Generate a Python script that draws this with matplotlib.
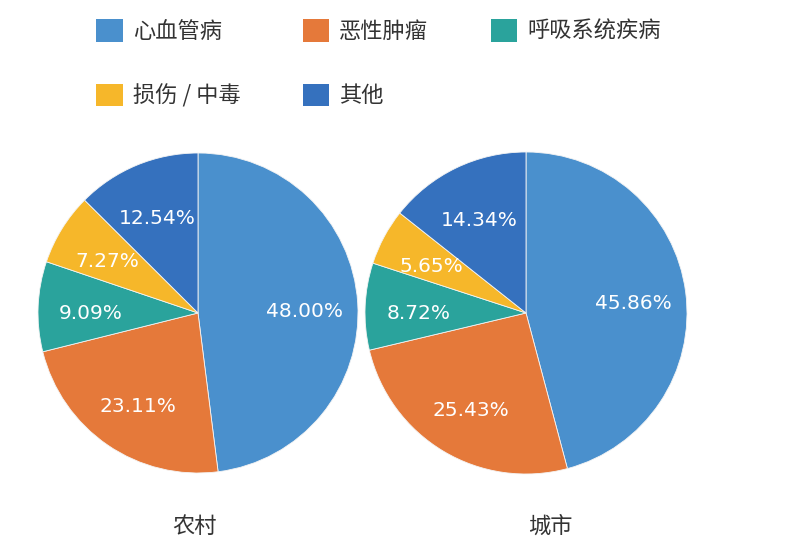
import matplotlib
matplotlib.use("Agg")
import matplotlib.pyplot as plt
from matplotlib.patches import Patch

plt.rcParams['font.family'] = ['Noto Sans CJK SC', 'DejaVu Sans']

# 数据
categories = ['心血管病', '恶性肿瘤', '呼吸系统疾病', '损伤 / 中毒', '其他']
rural = [48.00, 23.11, 9.09, 7.27, 12.54]
urban = [45.86, 25.43, 8.72, 5.65, 14.34]
titles = ['农村', '城市']
colors = ['#4A90CD', '#E5793A', '#2AA39C', '#F6B72A', '#3571BE']

W, H = 811, 550
fig = plt.figure(figsize=(W / 100, H / 100), dpi=100)


def draw_pie(cx, cy, r, values):
    ax = fig.add_axes([(cx - r) / W, (H - cy - r) / H, 2 * r / W, 2 * r / H])
    it = iter(values)
    _, _, autotexts = ax.pie(
        values, colors=colors, startangle=90, counterclock=False,
        autopct=lambda p: f"{next(it):.2f}%", pctdistance=0.67,
        wedgeprops=dict(edgecolor='#f4f4f4', linewidth=0.6),
        textprops=dict(color='white', fontsize=14.5, family='DejaVu Sans'))
    # 标签略微下移
    for t in autotexts:
        x, y = t.get_position()
        t.set_position((x, y - 0.03))
    ax.set_xlim(-1, 1)
    ax.set_ylim(-1, 1)
    ax.set_aspect('equal')
    return ax


draw_pie(198, 313, 160, rural)
draw_pie(526, 313, 161, urban)

# 图下方标题
fig.text(195 / W, 1 - 526 / H, titles[0], ha='center', va='center',
         fontsize=16, color='#333333')
fig.text(550 / W, 1 - 526 / H, titles[1], ha='center', va='center',
         fontsize=16, color='#333333')

# 图例（按列填充，调整顺序使第一行为前三项）
order = [0, 3, 1, 4, 2]
handles = [Patch(facecolor=colors[i], edgecolor='none') for i in order]
labels = [categories[i] for i in order]
fig.legend(handles, labels, ncol=3, loc='upper left',
           bbox_to_anchor=(96 / W, 1 - 19 / H), frameon=False,
           fontsize=16, handlelength=1.2, handleheight=1.2,
           handletextpad=0.45, columnspacing=2.8, labelspacing=1.83,
           borderpad=0, borderaxespad=0, labelcolor='#333333')

fig.savefig('out.png', dpi=100, facecolor='white')
